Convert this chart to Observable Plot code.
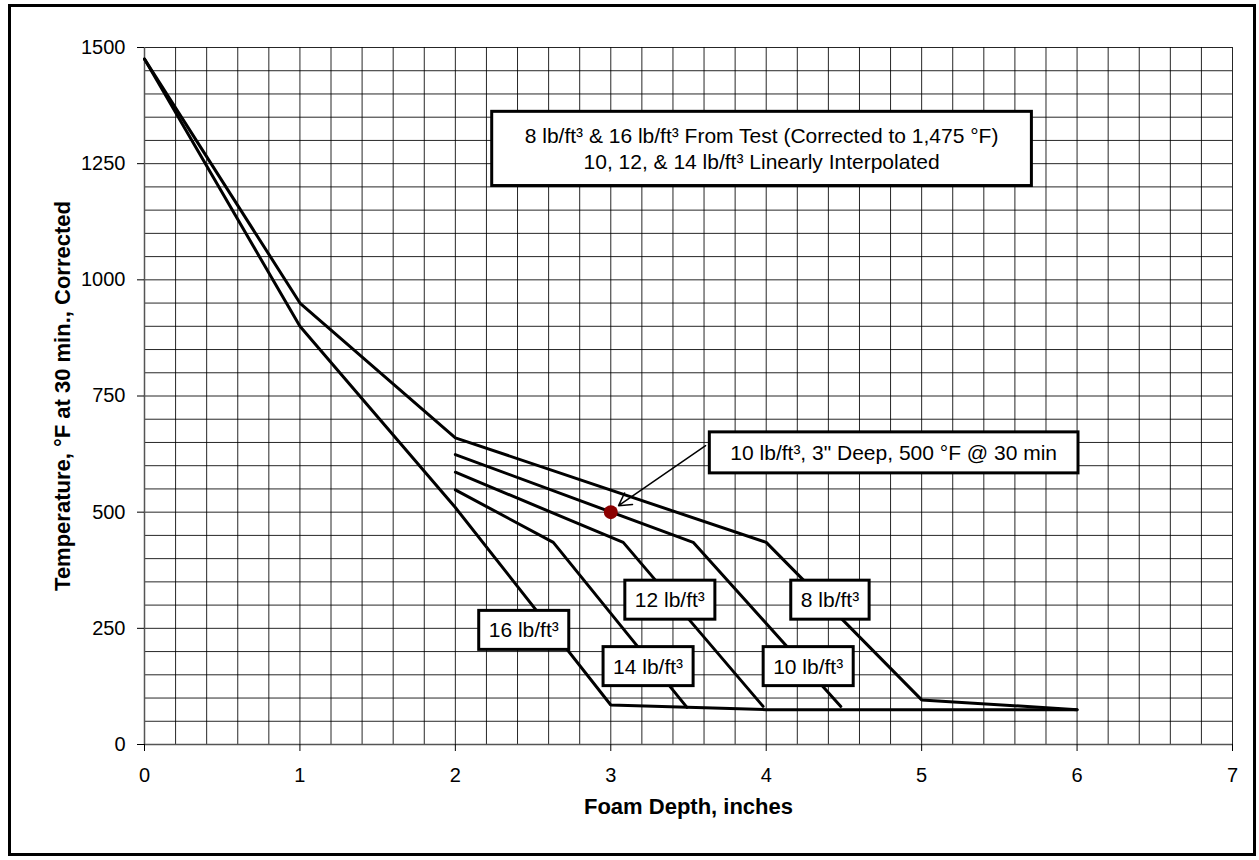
<!DOCTYPE html>
<html><head><meta charset="utf-8">
<script src="https://cdn.jsdelivr.net/npm/d3@7"></script>
<script src="https://cdn.jsdelivr.net/npm/@observablehq/plot@0.6"></script>
<style>
html,body{margin:0;padding:0;background:#fff;}
#wrap{position:relative;width:1259px;height:860px;overflow:hidden;}
#frame{position:absolute;left:8px;top:4px;width:1248px;height:852px;box-sizing:border-box;border:3px solid #000;pointer-events:none;}
</style></head>
<body>
<div id="wrap"><div id="chart"></div><div id="frame"></div></div>
<script>
// ---- data ----
const x8  = [0, 1, 2, 4, 5, 6];
const y8  = [1475, 950, 660, 435, 96, 75];
const x16 = [0, 1, 2, 3, 4, 6];
const y16 = [1475, 900, 510, 85, 75, 75];
const x10 = [2, 3.53, 4.48];
const y10 = [624, 435, 82];
const x12 = [2, 3.08, 3.98];
const y12 = [586, 435, 82];
const x14 = [2, 2.63, 3.49];
const y14 = [548, 435, 80];

const pointX = [3];
const pointY = [500];

const xTicks = [0, 1, 2, 3, 4, 5, 6, 7];
const yTicks = [0, 250, 500, 750, 1000, 1250, 1500];
const xGrid = d3.range(0, 36).map(i => i / 5);
const yGrid = d3.range(0, 31).map(i => i * 50);

const seriesLabels = ["16 lb/ft³", "14 lb/ft³", "12 lb/ft³", "10 lb/ft³", "8 lb/ft³"];
const seriesLabelX = [2.44, 3.24, 3.38, 4.27, 4.41];
const seriesLabelY = [245, 167, 310, 167, 310];

const noteText = "8 lb/ft³ & 16 lb/ft³ From Test (Corrected to 1,475 °F)\n10, 12, & 14 lb/ft³ Linearly Interpolated";
const noteX = [3.97], noteY = [1284];
const calloutText = "10 lb/ft³, 3\" Deep, 500 °F @ 30 min";
const calloutX = [4.82], calloutY = [627];
const arrowFrom = [3.61, 643], arrowTo = [3.05, 514];

const xTitle = "Foam Depth, inches";
const yTitle = "Temperature, °F at 30 min., Corrected";

// ---- build rows ----
const rows = [];
[["8", x8, y8], ["16", x16, y16], ["10", x10, y10], ["12", x12, y12], ["14", x14, y14]]
  .forEach(([s, xs, ys]) => xs.forEach((x, i) => rows.push({series: s, x, y: ys[i]})));
const labelRows = seriesLabels.map((t, i) => ({t, x: seriesLabelX[i], y: seriesLabelY[i]}));

const font = "'Liberation Sans', Arial, Helvetica, sans-serif";

// text mark that gets a white, black-bordered box behind each text
function boxedText(data, options, padX, padY) {
  return Plot.text(data, {
    ...options,
    render(index, scales, values, dimensions, context, next) {
      const g = next(index, scales, values, dimensions, context);
      g.setAttribute("data-box", padX + "," + padY);
      return g;
    }
  });
}

const chart = Plot.plot({
  width: 1259, height: 860,
  marginLeft: 144, marginRight: 27, marginTop: 47, marginBottom: 116,
  style: {fontFamily: font, fontSize: "20px", background: "transparent", color: "#000"},
  x: {domain: [0, 7]},
  y: {domain: [0, 1500]},
  marks: [
    Plot.gridX(xGrid, {stroke: "#000", strokeOpacity: 0.85, strokeWidth: 1}),
    Plot.gridY(yGrid, {stroke: "#000", strokeOpacity: 0.85, strokeWidth: 1}),
    Plot.ruleX([0], {stroke: "#555", strokeWidth: 1.5}),
    Plot.ruleY([0], {stroke: "#555", strokeWidth: 1.5}),
    Plot.axisX(xTicks, {tickSize: 7, tickPadding: 16, label: null, fontSize: 20, stroke: "#000", tickFormat: d => String(d)}),
    Plot.axisY(yTicks, {tickSize: 7, tickPadding: 12, label: null, fontSize: 20, stroke: "#000", tickFormat: d => String(d)}),
    Plot.line(rows, {x: "x", y: "y", z: "series", stroke: "#000", strokeWidth: 3, strokeLinejoin: "miter"}),
    Plot.arrow([0], {x1: () => arrowFrom[0], y1: () => arrowFrom[1], x2: () => arrowTo[0], y2: () => arrowTo[1],
      stroke: "#000", strokeWidth: 1.5, headLength: 14}),
    Plot.dot(pointX.map((x, i) => ({x, y: pointY[i]})), {x: "x", y: "y", r: 7, fill: "#8b0000", stroke: "none"}),
    boxedText(labelRows, {x: "x", y: "y", text: "t", fill: "#000", fontSize: 21}, 10, 8),
    boxedText([calloutText], {x: () => calloutX[0], y: () => calloutY[0], text: d => d, fill: "#000", fontSize: 21}, 21, 9),
    boxedText([noteText], {x: () => noteX[0], y: () => noteY[0], text: d => d, fill: "#000", fontSize: 21, lineHeight: 1.2}, 33, 13),
    Plot.text([xTitle], {frameAnchor: "bottom", dy: 62, lineAnchor: "middle", text: d => d, fontWeight: "bold", fontSize: 22, fill: "#000"}),
    Plot.text([yTitle], {frameAnchor: "left", dx: -82, rotate: -90, textAnchor: "middle", lineAnchor: "middle", text: d => d, fontWeight: "bold", fontSize: 22, fill: "#000"})
  ]
});

document.getElementById("chart").append(chart);

const NS = "http://www.w3.org/2000/svg";
chart.querySelectorAll("g[data-box]").forEach(g => {
  const [px, py] = g.getAttribute("data-box").split(",").map(Number);
  g.querySelectorAll(":scope > text").forEach(t => {
    const bb = t.getBBox();
    const r = document.createElementNS(NS, "rect");
    r.setAttribute("x", bb.x - px);
    r.setAttribute("y", bb.y - py);
    r.setAttribute("width", bb.width + 2 * px);
    r.setAttribute("height", bb.height + 2 * py);
    r.setAttribute("fill", "#fff");
    r.setAttribute("stroke", "#000");
    r.setAttribute("stroke-width", 3);
    const tr = t.getAttribute("transform");
    if (tr) r.setAttribute("transform", tr);
    g.insertBefore(r, t);
  });
});
</script>
</body></html>
